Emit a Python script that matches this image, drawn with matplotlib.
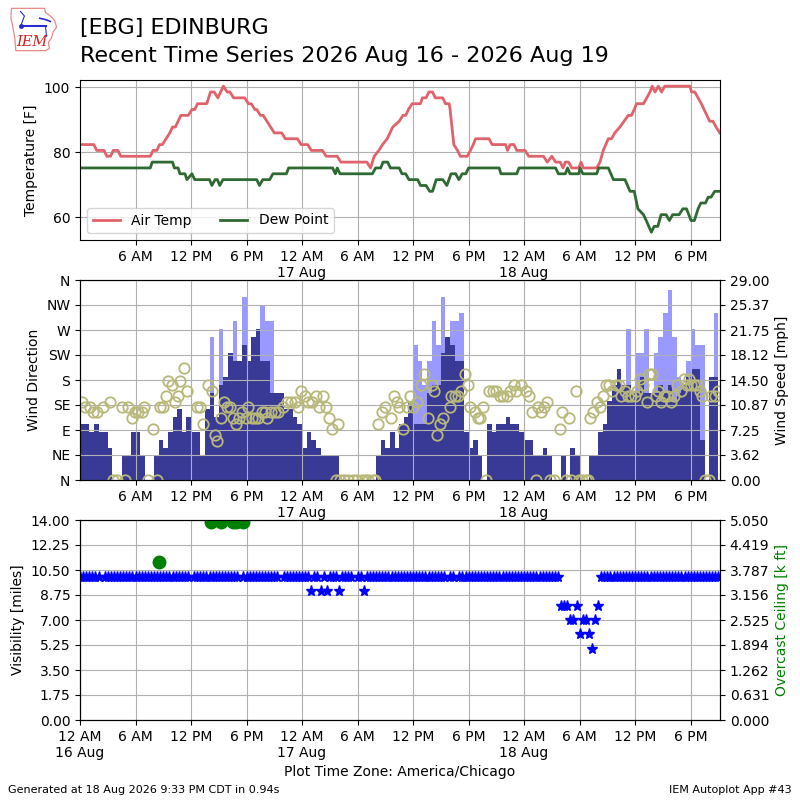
import numpy as np
import matplotlib
matplotlib.use("Agg")
import matplotlib.pyplot as plt
from matplotlib.patches import Polygon

NA = np.nan

# ---------------- data (hours since 16 Aug 2026 00:00 CDT) ----------------
temp_hours = [0.0, 1.5, 1.8, 2.6, 2.9, 3.3, 3.6, 4.1, 4.4, 7.6, 7.9, 8.3, 8.6, 8.9, 9.3, 9.7,
              10.0, 10.3, 10.6, 10.9, 11.7, 12.1, 12.4, 12.7, 13.7, 14.1, 14.5, 14.9, 15.5,
              15.9, 16.2, 16.6, 17.8, 18.2, 18.5, 18.9, 19.1, 19.5, 19.8, 20.2, 20.6, 21.0,
              21.8, 22.2, 23.5, 23.9, 24.6, 25.0, 26.2, 26.6, 27.8, 28.2, 31.0, 31.4, 31.8,
              32.3, 32.7, 33.2, 33.5, 33.8, 34.5, 34.9, 35.2, 35.5, 35.9, 36.8, 37.0, 37.4,
              37.7, 38.1, 38.4, 39.2, 39.5, 39.9, 40.0, 40.4, 40.8, 41.1, 41.85, 42.2, 42.5,
              42.75, 44.2, 44.55, 46.0, 46.2, 46.5, 46.9, 47.2, 48.1, 48.5, 50.1, 50.5, 51.0,
              51.4, 51.9, 52.2, 52.45, 52.8, 53.15, 53.9, 54.15, 54.4, 55.85, 56.2, 56.55,
              57.1, 57.45, 57.8, 58.35, 58.8, 59.25, 59.6, 59.9, 60.15, 60.9, 61.25, 61.6,
              61.85, 62.15, 62.5, 62.85, 63.2, 65.9, 66.1, 66.45, 66.8, 67.15, 67.45, 67.75,
              68.05, 68.4, 68.75, 69.15]
temp_f = [82.4, 82.4, 80.6, 80.6, 78.8, 78.8, 80.6, 80.6, 78.8, 78.8, 80.6, 80.6, 82.4, 82.4,
          84.2, 86.0, 87.8, 87.8, 89.6, 91.4, 91.4, 93.2, 93.2, 95.0, 95.0, 98.6, 98.6, 96.8,
          100.4, 98.6, 98.6, 96.8, 96.8, 95.0, 95.0, 93.2, 93.2, 91.4, 91.4, 89.6, 87.8, 86.0,
          86.0, 84.2, 84.2, 82.4, 82.4, 80.6, 80.6, 78.8, 78.8, 77.0, 77.0, 75.2, 78.8,
          80.6, 82.4, 84.2, 86.0, 87.8, 89.6, 91.4, 91.4, 93.2, 95.0, 95.0, 96.8, 96.8,
          98.6, 98.6, 96.8, 96.8, 95.0, 95.0, 93.2, 82.4, 80.6, 78.8, 78.8, 80.6, 82.4,
          84.2, 84.2, 82.4, 82.4, 80.6, 82.4, 82.4, 80.6, 80.6, 78.8, 78.8, 77.0, 78.8,
          77.0, 77.0, 75.2, 77.0, 77.0, 75.2, 75.2, 77.0, 75.2, 75.2, 77.0, 80.6,
          84.2, 84.2, 86.0, 87.8, 89.6, 91.4, 91.4, 93.2, 95.0, 95.0, 96.8, 98.6,
          100.4, 98.6, 100.4, 98.6, 100.4, 100.4, 98.6, 98.6, 96.8, 95.0, 93.2, 91.4,
          89.6, 89.6, 87.8, 86.0]

dewp_hours = [0.0, 7.6, 7.8, 10.0, 10.2, 10.6, 10.8, 11.35, 11.55, 12.1, 12.4, 14.0, 14.25,
              14.6, 14.85, 15.1, 15.45, 19.1, 19.4, 19.75, 20.5, 20.85, 22.3, 22.55, 27.3,
              27.6, 27.8, 28.1, 31.6, 31.95, 32.5, 32.75, 33.25, 33.55, 34.5, 34.8, 35.2,
              35.55, 36.5, 36.8, 37.4, 37.8, 38.1, 38.3, 38.5, 39.2, 39.65, 40.1, 40.6, 40.95,
              41.3, 41.7, 42.0, 45.3, 45.5, 47.2, 47.45, 51.4, 51.7, 52.45, 52.7, 52.95, 53.9,
              54.05, 54.35, 55.85, 56.05, 57.1, 57.65, 58.9, 59.45, 59.9, 60.3, 60.9, 61.2,
              61.75, 62.05, 62.45, 62.8, 63.35, 63.7, 64.05, 64.75, 65.15, 65.55, 66.05, 66.4,
              66.8, 67.1, 67.6, 67.9, 68.2, 68.6, 69.15]
dewp_f = [75.2, 75.2, 77.0, 77.0, 75.2, 75.2, 73.4, 73.4, 71.6, 73.4, 71.6, 71.6, 69.8,
          71.6, 71.6, 69.8, 71.6, 71.6, 69.8, 71.6, 71.6, 73.4, 73.4, 75.2, 75.2,
          73.4, 75.2, 73.4, 73.4, 75.2, 75.2, 77.0, 77.0, 75.2, 75.2, 73.4, 73.4,
          71.6, 71.6, 69.8, 69.8, 68.0, 68.0, 69.8, 71.6, 71.6, 69.8, 73.4, 73.4, 71.6,
          73.4, 73.4, 75.2, 75.2, 73.4, 73.4, 75.2, 75.2, 73.4, 73.4, 75.2, 73.4, 73.4,
          75.2, 73.4, 73.4, 75.2, 75.2, 71.6, 71.6, 68.0, 68.0, 62.6, 60.8, 59.0,
          55.4, 57.2, 57.2, 60.8, 60.8, 59.0, 60.8, 60.8, 62.6, 62.6, 59.0, 59.0,
          62.6, 64.4, 64.4, 66.2, 66.2, 68.0, 68.0]

# wind speed, one bar per half hour starting at these hours
wind_hours = [h * 0.5 for h in range(138)]
wind_mph = [8.05, 8.05, 6.9, 8.05, 6.9, 6.9, 4.6, 0, 0, 3.45, 3.45, 6.9, 6.9, 3.45, 0, 0,
            3.45, 5.75, 4.6, 6.9, 9.2, 10.35, 6.9, 9.2, 6.9, 6.9, 3.45, 10.35, 12.66, 9.2,
            13.8, 14.96, 18.4, 17.26, 17.26, 19.56, 17.26, 20.7, 21.85, 17.26, 17.26, 12.66,
            12.66, 12.66, 10.35, 10.35, 9.2, 8.05, 4.6, 6.9, 5.75, 4.6, 3.45, 3.45, 3.45, 3.45,
            0, 0, 0, 0, 0, 0, 0, 0,
            3.45, 5.75, 4.6, 6.9, 4.6, 8.05, 9.2, 11.5, 8.05, 8.05, 8.05, 12.66, 13.8, 13.8,
            18.4, 20.7, 19.56, 17.26, 17.26, 6.9, 4.6, 5.75, 3.45, 0, 8.05, 6.9, 8.05, 8.05,
            9.2, 8.05, 8.05, 6.9, 5.75, 5.75, 3.45, 3.45, 4.6, 3.45, 0, 0, 3.45, 0, 4.6, 3.45,
            0, 0, 3.45, 3.45, 6.9, 8.05, 11.5, 13.8, 16.1, 13.8, 13.8, 12.66, 12.66, 14.96,
            12.66, 12.66, 12.66, 13.8, 12.66, 13.8, 11.5, 12.66, 13.8, 14.96, 16.1, 16.1,
            5.75, 0, 14.96, 14.96]
gust_hours = [14.0, 15.0, 16.5, 17.5, 19.0, 19.5, 20.0, 20.5, 36.0, 36.5, 37.0, 37.5, 38.0,
              38.5, 39.0, 39.5, 40.0, 40.5, 41.0, 59.0, 60.0, 60.5, 61.0, 62.0, 62.5, 63.0,
              63.5, 64.0, 64.5, 65.5, 66.0, 66.5, 67.0, 68.5]
gust_mph = [20.7, 21.85, 23.0, 26.5, 21.85, 25.3, 23.0, 23.0, 19.56, 17.26, 13.8, 17.26, 23.0,
            19.56, 26.5, 20.7, 23.0, 23.0, 24.2, 21.85, 18.4, 18.4, 21.85, 18.4, 20.7, 24.2,
            27.6, 20.7, 14.96, 17.26, 21.85, 19.56, 19.56, 24.2]

dir_hours = [0.18, 0.54, 1.08, 1.44, 1.80, 2.52, 3.24, 3.60, 3.96, 4.50, 4.86, 5.23, 5.59,
             5.95, 6.31, 6.67, 6.95, 7.39, 7.86, 8.29, 8.65, 9.01, 9.30, 9.55, 9.91, 10.27,
             10.56, 10.81, 11.24, 11.53, 12.61, 12.97, 13.26, 13.87, 14.23, 14.59, 14.85,
             15.21, 15.57, 15.86, 16.22, 16.50, 16.86, 17.23, 17.48, 17.91, 18.20, 18.56,
             18.92, 19.28, 19.64, 20.00, 20.25, 20.61, 21.08, 21.44, 21.91, 22.34, 22.77,
             23.24, 23.60, 23.86,
             24.32, 24.68, 25.04, 25.51, 25.87, 26.23, 26.59, 26.91, 27.27, 27.67, 27.92,
             28.10, 28.53, 29.00, 29.47, 29.90, 30.44, 30.80, 31.16, 31.63, 31.88, 32.24,
             32.60, 32.96, 33.60, 33.93, 34.22, 34.50, 34.86, 35.29, 35.65, 36.01, 36.45,
             36.81, 37.17, 37.63, 37.99, 38.24, 38.53, 38.89, 39.25, 39.97, 40.15, 40.51,
             40.87, 41.23, 41.59, 41.95, 42.20, 42.67, 43.03, 43.28, 43.57, 43.93, 44.22,
             44.65, 45.01, 45.44, 45.73, 46.16, 46.45, 46.88, 47.17,
             47.71, 48.18, 48.54, 48.90, 49.26, 49.51, 49.87, 50.16, 50.52, 50.81, 51.24,
             51.88, 52.14, 52.50, 52.86, 53.11, 53.58, 53.94, 54.29, 54.65, 54.91, 55.12,
             55.48, 55.91, 56.20, 56.56, 56.81, 57.17, 57.53, 57.89, 58.25, 58.50, 58.86,
             59.22, 59.58, 59.94, 60.16, 60.52, 60.88, 61.24, 61.49, 61.85, 62.21, 62.46,
             62.75, 63.11, 63.47, 63.83, 64.19, 64.55, 64.91, 65.27, 65.63, 65.81, 66.06,
             66.35, 66.71, 66.96, 67.24, 67.60, 67.96, 68.22, 68.58, 68.94]
dir_deg = [141, 131, 131, 123, 123, 131, 141, 0, 0, 131, 0, 131, 111, 123, 123, 123, 131, 0,
           91, 0, 131, 131, 152, 179, 171, 141, 152, 179, 201, 161, 131, 131, 101, 171, 161,
           81, 71, 111, 141, 131, 131, 111, 101, 111, 123, 111, 131, 111, 111, 111, 123, 123,
           111, 123, 123, 123, 131, 141, 141, 141, 131, 161,
           152, 141, 141, 152, 131, 152, 131, 111, 91, 0, 101, 0, 0, 0, 0, 0, 0, 0, 0, 0, 0,
           101, 123, 131, 111, 152, 141, 131, 91, 131, 152, 131, 141, 171, 191, 111, 171, 161,
           81, 101, 111, 131, 152, 152, 152, 161, 191, 171, 131, 123, 111, 111, 131, 0, 161,
           161, 161, 152, 152, 152, 161, 171, 161,
           171, 161, 152, 123, 0, 131, 123, 131, 141, 0, 0, 91, 123, 0, 111, 0, 161, 0, 0, 0,
           0, 111, 123, 141, 131, 152, 171, 171, 161, 171, 171, 152, 161, 152, 152, 152, 161,
           181, 171, 141, 191, 191, 152, 161, 141, 152, 152, 141, 152, 171, 161, 181, 171,
           181, 171, 171, 171, 161, 152, 0, 0, 152, 152, 161]

# visibility, one report every 20 minutes from 00:00
vis_miles = [
    10, 10, 10, 10, 10, 10, 10, NA, 10, 10, 10, 10,
    10, 10, 10, 10, 10, 10, 10, 10, 10, 10, 10, 10,
    10, 10, 10, 10, 10, 10, 10, 10, 10, 10, 10, 10,
    NA, 10, 10, 10, 10, 10, 10, 10, 10, 10, 10, 10,
    10, 10, 10, 10, NA, 10, 10, 10, 10, 10, 10, 10,
    10, 10, 10, 10, 10, NA, 10, 10, 10, 10, 10, 10,
    10, 10, 10, 9, 10, 10, 9, 10, 9, 10, 10, 10,
    9, 10, 10, 10, 10, NA, 10, 10, 9, 10, 10, 10,
    10, 10, 10, 10, 10, 10, 10, 10, 10, 10, 10, 10,
    10, 10, 10, 10, 10, 10, 10, 10, 10, 10, 10, NA,
    10, 10, NA, 10, 10, 10, 10, 10, 10, 10, 10, 10,
    10, 10, 10, 10, 10, 10, 10, 10, 10, 10, 10, 10,
    10, 10, 10, 10, 10, 10, 10, 10, 10, 10, 10, 10,
    8, 8, 8, 7, 7, 8, 6, 7, 7, 6, 5, 7,
    8, 10, 10, 10, 10, 10, 10, 10, 10, 10, 10, 10,
    10, 10, 10, 10, 10, 10, 10, 10, 10, 10, 10, 10,
    10, 10, 10, 10, 10, 10, 10, 10, 10, 10, 10, 10,
    10, 10, 10, 10]
vis_hours = [i / 3.0 for i in range(len(vis_miles))]

ceil_hours = [8.55, 14.2, 15.2, 16.55, 16.9, 17.6]
ceil_kft = [4.0, 5.0, 5.0, 5.0, 5.0, 5.0]

x_tick_hours = [0, 6, 12, 18, 24, 30, 36, 42, 48, 54, 60, 66]
x_tick_labels = ['12 AM\n16 Aug', '6 AM', '12 PM', '6 PM', '12 AM\n17 Aug', '6 AM', '12 PM',
                 '6 PM', '12 AM\n18 Aug', '6 AM', '12 PM', '6 PM']
dir_ticks = [0, 45, 90, 135, 180, 225, 270, 315, 360]
dir_labels = ['N', 'NE', 'E', 'SE', 'S', 'SW', 'W', 'NW', 'N']
speed_ticks = [0, 3.625, 7.25, 10.875, 14.5, 18.125, 21.75, 25.375, 29.0]
speed_labels = ['0.00', '3.62', '7.25', '10.87', '14.50', '18.12', '21.75', '25.37', '29.00']
vis_ticks = [0, 1.75, 3.5, 5.25, 7.0, 8.75, 10.5, 12.25, 14.0]
vis_labels = ['0.00', '1.75', '3.50', '5.25', '7.00', '8.75', '10.50', '12.25', '14.00']
ceil_ticks = [0, 0.63125, 1.2625, 1.89375, 2.525, 3.15625, 3.7875, 4.41875, 5.05]
ceil_labels = ['0.000', '0.631', '1.262', '1.894', '2.525', '3.156', '3.787', '4.419', '5.050']

XMAX = 69.17

# ---------------- figure ----------------
fig = plt.figure(figsize=(8, 8), dpi=100)

# header
fig.text(0.1, 1 - 28 / 800, '[EBG] EDINBURG', fontsize=16, va='center', ha='left')
fig.text(0.1, 1 - 56 / 800, 'Recent Time Series 2026 Aug 16 - 2026 Aug 19', fontsize=16,
         va='center', ha='left')

# small IEM logo
lax = fig.add_axes([10 / 800, 1 - 52 / 800, 48 / 800, 45 / 800])
lax.set_xlim(0, 1)
lax.set_ylim(0, 1)
lax.axis('off')
iowa = [(0.03, 0.97), (0.72, 0.97), (0.74, 0.88), (0.84, 0.80), (0.93, 0.70), (0.97, 0.55),
        (0.90, 0.45), (0.86, 0.30), (0.80, 0.22), (0.82, 0.08), (0.74, 0.03), (0.12, 0.03),
        (0.10, 0.30), (0.06, 0.55), (0.02, 0.75)]
lax.add_patch(Polygon(iowa, closed=True, fill=False, edgecolor='#e88a8a', lw=0.9))
lax.plot([0.22, 0.74], [0.57, 0.57], color='#2a2ad0', lw=1.5)
lax.plot([0.22, 0.30, 0.22], [0.57, 0.80, 0.9], color='#2a2ad0', lw=0.8)
lax.plot([0.62, 0.74, 0.84], [0.75, 0.72, 0.68], color='#2a2ad0', lw=1.2)
lax.plot([0.74, 0.76], [0.57, 0.35], color='#2a2ad0', lw=0.8)
lax.plot([0.22], [0.57], 'o', color='#2a2ad0', ms=2.5)
lax.text(0.45, 0.22, 'IEM', color='#d42020', fontsize=10.5, style='italic',
         family='DejaVu Serif', ha='center', va='center')

# --- temperature panel ---
ax1 = fig.add_axes([0.1, 0.7, 0.8, 0.2])
ax1.plot(temp_hours, temp_f, color='#e0636b', lw=2, label='Air Temp')
ax1.plot(dewp_hours, dewp_f, color='#2f6a32', lw=2, label='Dew Point')
ax1.set_xlim(0, XMAX)
ax1.set_ylim(53, 102.3)
ax1.set_yticks([60, 80, 100])
ax1.set_xticks(x_tick_hours[1:])
ax1.set_xticklabels(x_tick_labels[1:])
ax1.grid(True)
ax1.set_ylabel('Temperature [F]')
ax1.legend(loc='lower left', ncol=2)

# --- wind panel ---
ax2 = fig.add_axes([0.1, 0.4, 0.8, 0.25])
ax2b = ax2.twinx()
ax2b.bar(gust_hours, gust_mph, width=0.5, align='edge', color='#9999ff', linewidth=0)
ax2b.bar(wind_hours, wind_mph, width=0.5, align='edge', color='#393996', linewidth=0)
ax2b.set_ylim(0, 29)
ax2b.set_yticks(speed_ticks)
ax2b.set_yticklabels(speed_labels)
ax2b.set_ylabel('Wind Speed [mph]')
ax2.plot(dir_hours, dir_deg, 'o', mfc='none', mec='#b8b87a', ms=7.5, mew=1.3, ls='none')
ax2.set_zorder(ax2b.get_zorder() + 1)
ax2.patch.set_visible(False)
ax2.set_ylim(0, 360)
ax2.set_yticks(dir_ticks)
ax2.set_yticklabels(dir_labels)
ax2.set_ylabel('Wind Direction')
ax2.set_xlim(0, XMAX)
ax2.set_xticks(x_tick_hours[1:])
ax2.set_xticklabels(x_tick_labels[1:])
ax2.grid(True)

# --- visibility / ceiling panel ---
ax3 = fig.add_axes([0.1, 0.1, 0.8, 0.25])
ax3.plot(vis_hours, vis_miles, '*', color='b', ms=8, ls='none')
ax3.set_ylim(0, 14)
ax3.set_yticks(vis_ticks)
ax3.set_yticklabels(vis_labels)
ax3.set_ylabel('Visibility [miles]')
ax3.set_xlim(0, XMAX)
ax3.set_xticks(x_tick_hours)
ax3.set_xticklabels(x_tick_labels)
ax3.grid(True)
ax3.set_xlabel('Plot Time Zone: America/Chicago')
ax3b = ax3.twinx()
ax3b.plot(ceil_hours, ceil_kft, 'o', color='g', ms=9, ls='none')
ax3b.set_ylim(0, 5.05)
ax3b.set_yticks(ceil_ticks)
ax3b.set_yticklabels(ceil_labels)
ax3b.set_ylabel('Overcast Ceiling [k ft]', color='g')
ax3b.set_xlim(0, XMAX)

# footer
fig.text(8 / 800, 10 / 800, 'Generated at 18 Aug 2026 9:33 PM CDT in 0.94s', fontsize=8,
         ha='left', va='center')
fig.text(792 / 800, 10 / 800, 'IEM Autoplot App #43', fontsize=8, ha='right', va='center')

fig.savefig('out.png', dpi=100)
